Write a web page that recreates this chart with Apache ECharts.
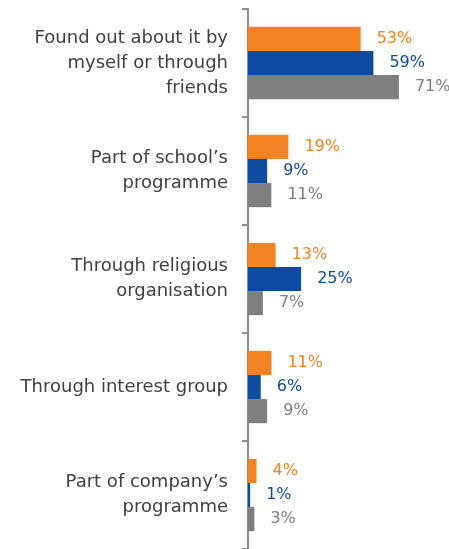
<!DOCTYPE html>
<html>
<head>
<meta charset="utf-8">
<script src="https://cdn.jsdelivr.net/npm/echarts@6/dist/echarts.min.js"></script>
<style>
  html, body { margin: 0; padding: 0; background: #ffffff; }
  #chart { width: 449px; height: 549px; }
</style>
</head>
<body>
<div id="chart"></div>
<script>
// How respondents learned about it
const categories = [
  'Found out about it by\nmyself or through\nfriends',
  'Part of school\u2019s\nprogramme',
  'Through religious\norganisation',
  'Through interest group',
  'Part of company\u2019s\nprogramme'
];
const seriesOrange = [53, 19, 13, 11, 4];
const seriesBlue = [59, 9, 25, 6, 1];
const seriesGrey = [71, 11, 7, 9, 3];

const FONT = '"DejaVu Sans", sans-serif';

function barSeries(name, data, color, labelColor) {
  return {
    name: name,
    type: 'bar',
    data: data,
    barGap: '0%',
    barCategoryGap: '33%',
    itemStyle: { color: color },
    label: {
      show: true,
      position: 'right',
      distance: 16,
      formatter: '{c}%',
      color: labelColor,
      fontFamily: FONT,
      fontSize: 16
    },
    emphasis: { disabled: true }
  };
}

const chart = echarts.init(document.getElementById('chart'), null, { renderer: 'canvas' });
chart.setOption({
  animation: false,
  backgroundColor: '#ffffff',
  grid: { left: 248, top: 9, width: 170, height: 542, containLabel: false },
  xAxis: {
    type: 'value',
    min: 0,
    max: 80,
    show: false
  },
  yAxis: {
    type: 'category',
    inverse: true,
    data: categories,
    axisLine: { show: true, lineStyle: { color: '#8c8c8c', width: 2 } },
    axisTick: { show: true, length: 6, lineStyle: { color: '#8c8c8c', width: 2 } },
    axisLabel: {
      margin: 20,
      color: '#404040',
      fontFamily: FONT,
      fontSize: 18,
      lineHeight: 25,
      align: 'right'
    },
    splitLine: { show: false }
  },
  series: [
    barSeries('orange', seriesOrange, '#f58220', '#f58220'),
    barSeries('blue', seriesBlue, '#0d4ba1', '#0d4ba1'),
    barSeries('grey', seriesGrey, '#7f7f7f', '#7f7f7f')
  ]
});
</script>
</body>
</html>
